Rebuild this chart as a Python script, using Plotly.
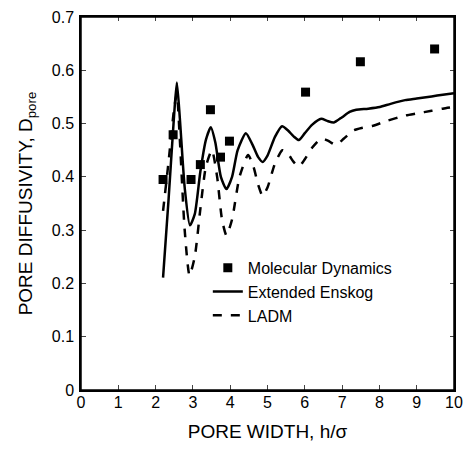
import plotly.graph_objects as go

# Molecular Dynamics points
md_x = [2.2, 2.47, 2.95, 3.2, 3.47, 3.74, 3.98, 6.02, 7.49, 9.48]
md_y = [0.395, 0.479, 0.395, 0.423, 0.526, 0.437, 0.467, 0.559, 0.616, 0.640]

# Extended Enskog curve
ee_x = [2.2, 2.35, 2.5, 2.57, 2.65, 2.78, 2.92, 3.05, 3.2, 3.35, 3.48, 3.6, 3.75, 3.9, 4.05,
        4.2, 4.42, 4.6, 4.75, 4.87, 5.0, 5.2, 5.39, 5.55, 5.7, 5.84, 6.0, 6.2, 6.44, 6.6,
        6.78, 7.0, 7.2, 7.38, 7.7, 8.01, 8.3, 8.69, 9.0, 9.4, 9.7, 10.0]
ee_y = [0.211, 0.36, 0.52, 0.577, 0.51, 0.38, 0.309, 0.33, 0.41, 0.47, 0.493, 0.465, 0.40, 0.377, 0.40,
        0.45, 0.482, 0.46, 0.437, 0.428, 0.44, 0.475, 0.495, 0.487, 0.476, 0.469, 0.482, 0.498, 0.509, 0.505,
        0.502, 0.512, 0.522, 0.526, 0.528, 0.531, 0.537, 0.544, 0.547, 0.551, 0.554, 0.557]

# LADM curve
la_x = [2.2, 2.35, 2.5, 2.57, 2.65, 2.78, 2.91, 3.05, 3.2, 3.35, 3.51, 3.65, 3.78, 3.9, 4.05,
        4.25, 4.48, 4.62, 4.75, 4.87, 5.0, 5.2, 5.4, 5.55, 5.7, 5.84, 6.0, 6.2, 6.44, 6.62,
        6.83, 7.05, 7.3, 7.55, 7.83, 8.2, 8.69, 9.0, 9.4, 9.7, 10.0]
la_y = [0.336, 0.43, 0.53, 0.555, 0.47, 0.30, 0.215, 0.25, 0.34, 0.42, 0.45, 0.40, 0.32, 0.29, 0.32,
        0.40, 0.441, 0.42, 0.385, 0.364, 0.38, 0.425, 0.45, 0.443, 0.428, 0.419, 0.433, 0.455, 0.472, 0.468,
        0.460, 0.472, 0.487, 0.492, 0.496, 0.505, 0.515, 0.519, 0.524, 0.528, 0.531]

x_ticks = [0, 1, 2, 3, 4, 5, 6, 7, 8, 9, 10]
y_ticks = [0, 0.1, 0.2, 0.3, 0.4, 0.5, 0.6, 0.7]
y_tick_labels = ["0", "0.1", "0.2", "0.3", "0.4", "0.5", "0.6", "0.7"]

font_family = "Liberation Sans, Arial, sans-serif"

fig = go.Figure()
fig.add_trace(go.Scatter(x=md_x, y=md_y, mode="markers", name="Molecular Dynamics",
                         marker=dict(symbol="square", size=9, color="black")))
fig.add_trace(go.Scatter(x=ee_x, y=ee_y, mode="lines", name="Extended Enskog",
                         line=dict(color="black", width=2.5, shape="spline", smoothing=0.6)))
fig.add_trace(go.Scatter(x=la_x, y=la_y, mode="lines", name="LADM",
                         line=dict(color="black", width=2.5, dash="dash", shape="spline", smoothing=0.6)))
# invisible helper trace so the top/right axes are drawn
fig.add_trace(go.Scatter(x=[None], y=[None], xaxis="x2", yaxis="y2", showlegend=False,
                         hoverinfo="skip"))

# the page body has an 8px margin, so the figure is sized to fit inside it
fig.update_layout(
    width=455, height=434,
    margin=dict(l=73, r=9, t=9, b=52),
    paper_bgcolor="white", plot_bgcolor="white",
    font=dict(family=font_family, color="black", size=15),
    showlegend=True,
    legend=dict(x=0.34, y=0.373, xanchor="left", yanchor="top",
                bgcolor="rgba(0,0,0,0)", font=dict(size=16), tracegroupgap=0,
                itemwidth=30),
    xaxis=dict(range=[0, 10], tickvals=x_ticks, ticks="inside", ticklen=5,
               showline=True, linecolor="black", linewidth=1.5,
               showgrid=False, zeroline=False, tickfont=dict(size=16), automargin=False,
               ticklabelstandoff=-3, ticklabeloverflow="allow",
               title=dict(text="PORE WIDTH, h/σ", font=dict(size=19), standoff=17)),
    yaxis=dict(range=[0, 0.7], tickvals=y_ticks, ticktext=y_tick_labels, ticks="inside", ticklen=5,
               showline=True, linecolor="black", linewidth=1.5,
               showgrid=False, zeroline=False, tickfont=dict(size=16), automargin=False,
               ticklabelstandoff=2, ticklabeloverflow="allow",
               title=dict(text="PORE DIFFUSIVITY, D<sub>pore</sub>", font=dict(size=19), standoff=14)),
    xaxis2=dict(overlaying="x", side="top", range=[0, 10], tickvals=x_ticks, showticklabels=False,
                ticks="inside", ticklen=4, showline=True, linecolor="black", linewidth=1.5,
                showgrid=False, zeroline=False, automargin=False),
    yaxis2=dict(overlaying="y", side="right", range=[0, 0.7], tickvals=y_ticks, showticklabels=False,
                ticks="inside", ticklen=4, showline=True, linecolor="black", linewidth=1.5,
                showgrid=False, zeroline=False, automargin=False),
    shapes=[dict(type="rect", xref="paper", yref="paper", x0=0, y0=0, x1=1, y1=1,
                 line=dict(color="black", width=1.5), fillcolor="rgba(0,0,0,0)", layer="above")],
)

fig.write_html("out.html")
